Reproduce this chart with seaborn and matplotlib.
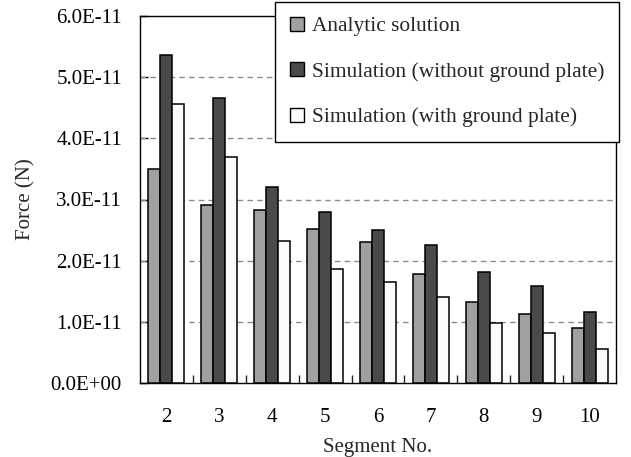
import numpy as np
import pandas as pd
import matplotlib
matplotlib.use('Agg')
import matplotlib.pyplot as plt
import seaborn as sns
from matplotlib.ticker import FuncFormatter, MultipleLocator

# 세그먼트 번호별 힘 (단위 1E-11 N)
segments = ['2', '3', '4', '5', '6', '7', '8', '9', '10']
analytic = [3.50, 2.91, 2.83, 2.52, 2.30, 1.78, 1.33, 1.12, 0.90]
sim_no_plate = [5.36, 4.66, 3.20, 2.79, 2.50, 2.26, 1.81, 1.58, 1.16]
sim_plate = [4.56, 3.69, 2.32, 1.86, 1.65, 1.40, 0.98, 0.82, 0.56]

series_names = ['Analytic solution',
                'Simulation (without ground plate)',
                'Simulation (with ground plate)']
colors = ['#a0a0a0', '#4a4a4a', '#fbfbfb']

rows = []
for name, vals in zip(series_names, [analytic, sim_no_plate, sim_plate]):
    for seg, v in zip(segments, vals):
        rows.append({'segment': seg, 'series': name, 'force': v * 1e-11})
df = pd.DataFrame(rows)

sns.set_style('white')
plt.rcParams['font.family'] = ['Liberation Serif', 'DejaVu Serif']

fig = plt.figure(figsize=(6.31, 4.57), dpi=100)
ax = fig.add_axes([140 / 631, 1 - 383 / 457, 476 / 631, 367 / 457])

sns.barplot(data=df, x='segment', y='force', hue='series', order=segments,
            hue_order=series_names, palette=colors, width=0.68,
            edgecolor='black', linewidth=1.1, saturation=1, ax=ax, zorder=3)

ax.set_ylim(0, 6e-11)
ax.set_xlim(-0.5, len(segments) - 0.5)
ax.yaxis.set_major_locator(MultipleLocator(1e-11))
ax.yaxis.set_major_formatter(FuncFormatter(lambda v, p: '{:.1E}'.format(v)))
ax.yaxis.get_offset_text().set_visible(False)

# 점선 그리드
for g in range(1, 6):
    ax.axhline(g * 1e-11, color='#8c8c8c', linestyle=(0, (4, 3)), linewidth=1.0, zorder=1)

for s in ax.spines.values():
    s.set_visible(True)
    s.set_color('black')
    s.set_linewidth(1.0)

ax.tick_params(axis='y', direction='in', length=6, width=1, pad=13, labelsize=15,
               left=True, colors='black')
for lab in ax.get_yticklabels():
    lab.set_verticalalignment('center_baseline')
ax.tick_params(axis='x', which='major', length=0, pad=18, labelsize=15, colors='black')
ax.set_xticks(np.arange(0.5, len(segments) - 1, 1.0), minor=True)
ax.tick_params(axis='x', which='minor', direction='in', length=6, width=1, bottom=True)

ax.set_xlabel('Segment No.', fontsize=15, labelpad=8)
ax.set_ylabel('Force (N)', fontsize=15, labelpad=11)

ax.legend_.remove()
handles = [plt.Rectangle((0, 0), 1, 1, facecolor=c, edgecolor='black', linewidth=1.0)
           for c in colors]
leg = fig.legend(handles, series_names, loc='upper right',
                 bbox_to_anchor=(619 / 631, 1 - 2 / 457), bbox_transform=fig.transFigure,
                 fontsize=15.4, frameon=True, fancybox=False, framealpha=1,
                 edgecolor='black', handlelength=0.68, handleheight=0.62,
                 handletextpad=0.33, labelspacing=1.2, borderpad=0.7,
                 borderaxespad=0)
leg.get_frame().set_linewidth(1.0)
leg.set_zorder(10)

fig.savefig('out.png', dpi=100)
